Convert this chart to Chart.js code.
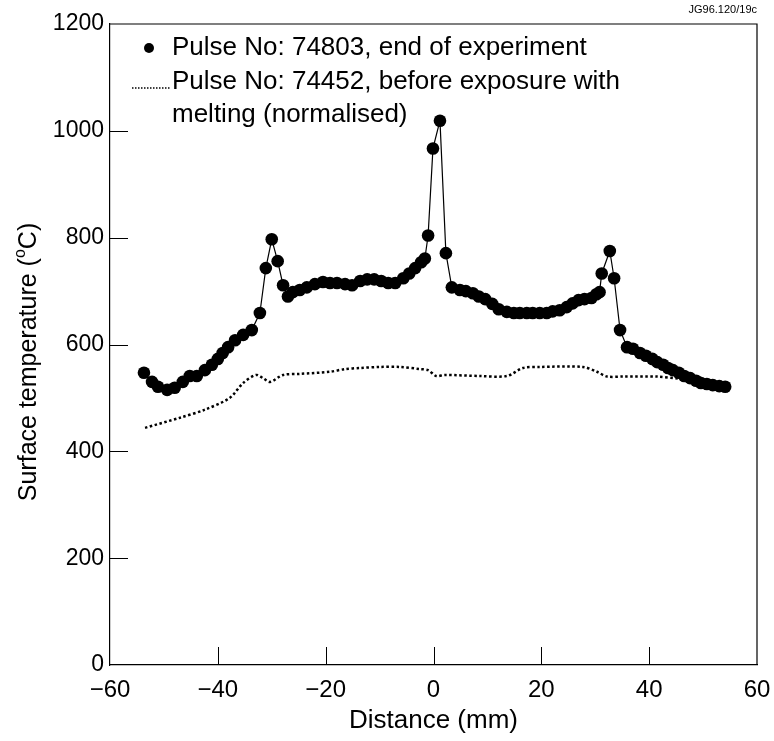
<!DOCTYPE html>
<html>
<head>
<meta charset="utf-8">
<script src="https://cdn.jsdelivr.net/npm/chart.js@4"></script>
<style>
  html, body { margin: 0; padding: 0; background: #fff; }
  #wrap { width: 774px; height: 741px; }
</style>
</head>
<body>
<div id="wrap"><canvas id="tempChart" width="774" height="741"></canvas></div>
<script>
// Surface temperature profiles across the tile (distance in mm, temperature in degC)

// Pulse No: 74803, end of experiment (dots joined by a thin line)
const distance74803 = [
  -53.7, -52.2, -51.1, -49.4, -48.0, -46.5, -45.2, -43.9, -42.4, -41.1,
  -40.0, -39.1, -38.1, -36.8, -35.3, -33.7, -32.2, -31.1, -30.0, -28.9,
  -27.9, -27.0, -26.1, -24.8, -23.5, -22.0, -20.5, -19.2, -17.9, -16.4,
  -15.1, -13.6, -12.3, -11.0, -9.7, -8.4, -7.1, -5.6, -4.5, -3.4,
  -2.3, -1.6, -1.0, -0.1, 1.2, 2.3, 3.4, 4.9, 6.0, 7.3,
  8.4, 9.6, 10.9, 12.1, 13.6, 14.9, 16.0, 17.3, 18.4, 19.7,
  21.0, 22.1, 23.4, 24.7, 25.8, 26.9, 28.0, 29.3, 30.2, 30.8,
  31.2, 32.7, 33.5, 34.6, 35.9, 37.0, 38.3, 39.4, 40.6, 41.5,
  42.6, 43.5, 44.4, 45.5, 46.5, 47.6, 48.7, 49.6, 50.7, 51.8,
  53.0, 54.1
];
const temp74803 = [
  547, 530, 521, 515, 519, 530, 541, 541, 552, 562,
  573, 584, 595, 608, 618, 627, 659, 743, 797, 756,
  711, 690, 698, 702, 707, 713, 717, 715, 715, 713,
  711, 719, 722, 722, 719, 715, 715, 724, 733, 743,
  754, 761, 804, 967, 1019, 771, 707, 702, 700, 696,
  690, 685, 676, 666, 661, 659, 659, 659, 659, 659,
  659, 662, 664, 670, 677, 683, 685, 687, 694, 698,
  733, 775, 724, 627, 595, 592, 584, 579, 573, 567,
  562, 556, 552, 547, 541, 537, 532, 528, 526, 524,
  522, 521
];

// Pulse No: 74452, before exposure with melting (normalised) (dotted line)
const distance74452 = [
  -53.5, -47.0, -42.4, -37.8, -35.3, -32.9, -31.6, -30.3, -27.9, -24.8,
  -19.2, -16.4, -13.6, -9.9, -6.2, -2.5, -1.0, 0.5, 2.1, 8.6,
  13.6, 16.6, 19.7, 27.7, 30.3, 32.2, 35.2, 41.5, 45.5, 49.4
];
const temp74452 = [
  444, 463, 478, 500, 528, 543, 537, 530, 543, 545,
  549, 554, 556, 558, 558, 554, 552, 541, 543, 541,
  541, 556, 558, 558, 549, 540, 540, 540, 536, 532
];

const xTicks = [-60, -40, -20, 0, 20, 40, 60];
const yTicks = [0, 200, 400, 600, 800, 1000, 1200];

const legendLines = [
  'Pulse No: 74803, end of experiment',
  'Pulse No: 74452, before exposure with',
  'melting (normalised)'
];
const figureCode = 'JG96.120/19c';

const FONT = '"Liberation Sans", Arial, Helvetica, sans-serif';

function toPoints(xs, ys) {
  return xs.map((x, i) => ({ x: x, y: ys[i] }));
}

// inward ticks, frame, axis titles, legend box text
const decorations = {
  id: 'decorations',
  afterDraw(chart) {
    const ctx = chart.ctx;
    const area = chart.chartArea;
    const xs = chart.scales.x;
    const ys = chart.scales.y;
    ctx.save();
    ctx.strokeStyle = '#000';
    ctx.lineWidth = 1.2;

    // top and right frame lines
    ctx.beginPath();
    ctx.moveTo(area.left, area.top);
    ctx.lineTo(area.right, area.top);
    ctx.lineTo(area.right, area.bottom);
    ctx.stroke();

    // inward ticks
    ctx.lineWidth = 1;
    xTicks.forEach((v) => {
      if (v === -60 || v === 60) return;
      const px = Math.round(xs.getPixelForValue(v)) + 0.5;
      ctx.beginPath();
      ctx.moveTo(px, area.bottom);
      ctx.lineTo(px, area.bottom - 18);
      ctx.stroke();
    });
    yTicks.forEach((v) => {
      if (v === 0 || v === 1200) return;
      const py = Math.round(ys.getPixelForValue(v)) + 0.5;
      ctx.beginPath();
      ctx.moveTo(area.left, py);
      ctx.lineTo(area.left + 18, py);
      ctx.stroke();
    });

    ctx.fillStyle = '#000';

    // x title
    ctx.font = '26px ' + FONT;
    ctx.textAlign = 'center';
    ctx.textBaseline = 'middle';
    ctx.fillText('Distance (mm)', (area.left + area.right) / 2, 721);

    // y title with superscript o
    ctx.save();
    ctx.translate(27, 362);
    ctx.rotate(-Math.PI / 2);
    const partA = 'Surface temperature (';
    const partSup = 'o';
    const partB = 'C)';
    ctx.font = '25px ' + FONT;
    const wA = ctx.measureText(partA).width;
    const wB = ctx.measureText(partB).width;
    ctx.font = '16px ' + FONT;
    const wS = ctx.measureText(partSup).width;
    let cx = -(wA + wS + wB) / 2;
    ctx.textAlign = 'left';
    ctx.textBaseline = 'alphabetic';
    ctx.font = '25px ' + FONT;
    ctx.fillText(partA, cx, 9);
    cx += wA;
    ctx.font = '16px ' + FONT;
    ctx.fillText(partSup, cx, -2);
    cx += wS;
    ctx.font = '25px ' + FONT;
    ctx.fillText(partB, cx, 9);
    ctx.restore();

    // legend
    ctx.font = '26px ' + FONT;
    ctx.textAlign = 'left';
    ctx.textBaseline = 'middle';
    ctx.fillText(legendLines[0], 172, 48);
    ctx.fillText(legendLines[1], 172, 82);
    ctx.fillText(legendLines[2], 172, 115);
    ctx.beginPath();
    ctx.arc(149, 48, 5, 0, Math.PI * 2);
    ctx.fill();
    ctx.setLineDash([1.5, 1.5]);
    ctx.lineWidth = 1.5;
    ctx.beginPath();
    ctx.moveTo(132, 88);
    ctx.lineTo(170, 88);
    ctx.stroke();
    ctx.setLineDash([]);

    // figure code
    ctx.font = '11px ' + FONT;
    ctx.textAlign = 'right';
    ctx.fillText(figureCode, 757, 10);
    ctx.restore();
  }
};

const ctx = document.getElementById('tempChart').getContext('2d');
const chart = new Chart(ctx, {
  type: 'scatter',
  data: {
    datasets: [
      {
        label: 'Pulse No: 74452',
        data: toPoints(distance74452, temp74452),
        showLine: true,
        borderColor: '#000',
        borderWidth: 2.5,
        borderDash: [2.5, 2.5],
        tension: 0.3,
        pointRadius: 0
      },
      {
        label: 'Pulse No: 74803',
        data: toPoints(distance74803, temp74803),
        showLine: true,
        borderColor: '#000',
        borderWidth: 1.2,
        pointRadius: 6.3,
        pointBackgroundColor: '#000',
        pointBorderWidth: 0
      }
    ]
  },
  options: {
    responsive: false,
    animation: false,
    devicePixelRatio: 1,
    layout: { padding: { top: 24, right: 17, left: 0, bottom: 0 } },
    plugins: {
      legend: { display: false },
      tooltip: { enabled: false }
    },
    scales: {
      x: {
        type: 'linear',
        min: -60,
        max: 60,
        afterBuildTicks: (scale) => { scale.ticks = xTicks.map(v => ({ value: v })); },
        afterFit: (scale) => {
          scale.height = 76;
          scale.paddingLeft = 0;
          scale.paddingRight = 0;
        },
        grid: { display: false, drawTicks: false },
        border: { display: true, color: '#000', width: 1.2 },
        ticks: {
          color: '#000',
          padding: 11,
          font: { size: 24, family: FONT },
          callback: (v) => String(v).replace('-', '\u2212')
        }
      },
      y: {
        type: 'linear',
        min: 0,
        max: 1200,
        afterBuildTicks: (scale) => { scale.ticks = yTicks.map(v => ({ value: v })); },
        afterFit: (scale) => {
          scale.width = 110;
          scale.paddingTop = 0;
          scale.paddingBottom = 0;
        },
        grid: { display: false, drawTicks: false },
        border: { display: true, color: '#000', width: 1.2 },
        ticks: {
          color: '#000',
          padding: 6,
          font: { size: 23, family: FONT },
          callback: (v) => String(v)
        }
      }
    }
  },
  plugins: [decorations]
});
</script>
</body>
</html>
